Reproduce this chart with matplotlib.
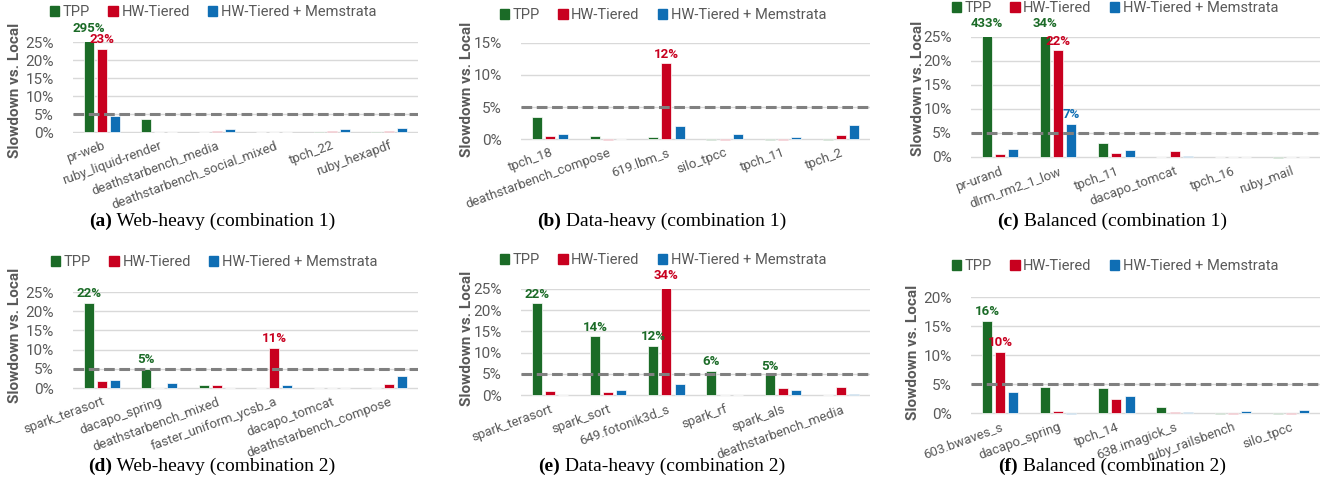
import numpy as np
import matplotlib.pyplot as plt
from matplotlib.patches import Patch

plt.rcParams['font.family'] = ['Roboto', 'DejaVu Sans']

W, H = 1330, 486
green, red, blue = '#1B6B27', '#C8001F', '#0F6EB4'
gray = '#595959'
series_names = ['TPP', 'HW-Tiered', 'HW-Tiered + Memstrata']

# (a) Web-heavy (combination 1)
bench_a = ['pr-web', 'ruby_liquid-render', 'deathstarbench_media',
           'deathstarbench_social_mixed', 'tpch_22', 'ruby_hexapdf']
tpp_a = [295, 3.6, 0, 0, -0.2, -0.2]
hw_a = [23, -0.1, 0.3, 0, 0.3, 0.3]
mem_a = [4.5, 0, 0.75, 0, 0.9, 1.2]
labels_a = [(0, 0, '295%'), (1, 0, '23%')]

# (b) Data-heavy (combination 1)
bench_b = ['tpch_18', 'deathstarbench_compose', '619.lbm_s', 'silo_tpcc', 'tpch_11', 'tpch_2']
tpp_b = [3.5, 0.5, 0.25, -0.1, -0.1, -0.1]
hw_b = [0.5, -0.1, 11.8, -0.1, -0.1, 0.7]
mem_b = [0.85, 0, 2.0, 0.8, 0.35, 2.15]
labels_b = [(1, 2, '12%')]

# (c) Balanced (combination 1)
bench_c = ['pr-urand', 'dlrm_rm2_1_low', 'tpch_11', 'dacapo_tomcat', 'tpch_16', 'ruby_mail']
tpp_c = [433, 34, 3.0, 0, -0.1, -0.15]
hw_c = [0.7, 22.2, 0.9, 1.25, 0, 0]
mem_c = [1.7, 6.9, 1.45, 0.3, 0, -0.1]
labels_c = [(0, 0, '433%'), (0, 1, '34%'), (1, 1, '22%'), (2, 1, '7%')]

# (d) Web-heavy (combination 2)
bench_d = ['spark_terasort', 'dacapo_spring', 'deathstarbench_mixed',
           'faster_uniform_ycsb_a', 'dacapo_tomcat', 'deathstarbench_compose']
tpp_d = [22.2, 5.0, 0.8, 0.1, 0, -0.1]
hw_d = [1.9, 0.1, 0.8, 10.5, 0, 1.0]
mem_d = [2.1, 1.4, 0, 0.85, 0, 3.2]
labels_d = [(0, 0, '22%'), (0, 1, '5%'), (1, 3, '11%')]

# (e) Data-heavy (combination 2)
bench_e = ['spark_terasort', 'spark_sort', '649.fotonik3d_s', 'spark_rf', 'spark_als',
           'deathstarbench_media']
tpp_e = [21.6, 13.8, 11.6, 5.6, 4.6, -0.1]
hw_e = [0.95, 0.7, 34, -0.1, 1.6, 1.8]
mem_e = [-0.1, 1.1, 2.7, -0.1, 1.1, 0.25]
labels_e = [(0, 0, '22%'), (0, 1, '14%'), (0, 2, '12%'), (1, 2, '34%'), (0, 3, '6%'), (0, 4, '5%')]

# (f) Balanced (combination 2)
bench_f = ['603.bwaves_s', 'dacapo_spring', 'tpch_14', '638.imagick_s', 'ruby_railsbench', 'silo_tpcc']
tpp_f = [15.9, 4.4, 4.25, 1.05, -0.1, -0.1]
hw_f = [10.5, 0.3, 2.4, 0.1, -0.1, -0.1]
mem_f = [3.55, -0.15, 3.0, 0.25, 0.4, 0.5]
labels_f = [(0, 0, '16%'), (1, 0, '10%')]

panels = [
    (bench_a, tpp_a, hw_a, mem_a, labels_a, 25, 'a', 'Web-heavy (combination 1)',
     (73, 418, 42, 132), (213, 12), (15, 90), (212, 221)),
    (bench_b, tpp_b, hw_b, mem_b, labels_b, 15, 'b', 'Data-heavy (combination 1)',
     (521, 870, 43, 139), (663, 15), (467, 89), (662, 221)),
    (bench_c, tpp_c, hw_c, mem_c, labels_c, 25, 'c', 'Balanced (combination 1)',
     (971, 1320, 37, 157), (1115, 8), (918, 88), (1112, 221)),
    (bench_d, tpp_d, hw_d, mem_d, labels_d, 25, 'd', 'Web-heavy (combination 2)',
     (73, 418, 292, 388), (214, 262), (15, 335), (212, 466)),
    (bench_e, tpp_e, hw_e, mem_e, labels_e, 25, 'e', 'Data-heavy (combination 2)',
     (521, 870, 289, 395), (663, 260), (467, 338), (662, 466)),
    (bench_f, tpp_f, hw_f, mem_f, labels_f, 20, 'f', 'Balanced (combination 2)',
     (971, 1320, 297, 413), (1115, 266), (913, 352), (1112, 466)),
]

fig = plt.figure(figsize=(W / 100, H / 100), dpi=100)
colors = [green, red, blue]
offsets = [-0.226, 0, 0.226]
captions = []

for bench, tpp, hw, mem, labels, ymax, letter, cap, box, leg, ylab, cpos in panels:
    x0, x1, ytop, yzero = box
    ymin = -ymax * 0.016
    ppu = (yzero - ytop) / ymax
    ybot = yzero - ymin * ppu
    ax = fig.add_axes([x0 / W, 1 - ybot / H, (x1 - x0) / W, (ybot - ytop) / H])
    x = np.arange(len(bench))
    for vals, col, off in zip([tpp, hw, mem], colors, offsets):
        ax.bar(x + off, vals, 0.174, color=col, edgecolor='white', linewidth=0.5, zorder=2)
    for si, bi, txt in labels:
        v = [tpp, hw, mem][si][bi]
        dy = 5 if v > ymax else 2
        ax.annotate(txt, (bi + offsets[si], min(v, ymax)), xytext=(0, dy),
                    textcoords='offset points', ha='center', va='bottom',
                    color=colors[si], fontsize=9.5, fontweight='bold', annotation_clip=False)
    ax.axhline(5, color='#808080', lw=2.2, dashes=(3.5, 1.5), zorder=4)
    ax.set_xlim(-0.5, len(bench) - 0.5)
    ax.set_ylim(ymin, ymax)
    ax.set_yticks(np.arange(0, ymax + 1, 5))
    ax.set_yticklabels([f'{t}%' for t in range(0, ymax + 1, 5)], fontsize=11, color=gray)
    ax.set_xticks(x)
    ax.set_xticklabels(bench, rotation=20, ha='right', rotation_mode='anchor',
                       fontsize=9.5, color=gray)
    ax.tick_params(length=0)
    ax.tick_params(axis='y', pad=14)
    ax.tick_params(axis='x', pad=4)
    for s in ax.spines.values():
        s.set_visible(False)
    ax.set_axisbelow(True)
    ax.yaxis.grid(True, color='#D9D9D9', lw=1)
    handles = [Patch(color=c, label=n) for c, n in zip(colors, series_names)]
    ax.legend(handles=handles, loc='center', ncol=3, frameon=False,
              bbox_to_anchor=(leg[0] / W, 1 - leg[1] / H), bbox_transform=fig.transFigure,
              fontsize=10.5, handlelength=0.65, handleheight=0.65, handletextpad=0.25,
              columnspacing=1.25, labelcolor=gray)
    fig.text(ylab[0] / W, 1 - ylab[1] / H, 'Slowdown vs. Local', rotation=90,
             ha='center', va='center', fontsize=11, fontweight='bold', color=gray)
    t1 = fig.text(cpos[0] / W, 1 - cpos[1] / H, f'({letter})', ha='left', va='center',
                  fontsize=14, fontweight='bold', family='Liberation Serif')
    t2 = ax.annotate(' ' + cap, xy=(1, 0.5), xycoords=t1, ha='left', va='center',
                     fontsize=14, family='Liberation Serif', annotation_clip=False)
    captions.append((t1, t2, cpos[0]))

# center each two-part caption on its panel
renderer = fig.canvas.get_renderer()
for t1, t2, cx in captions:
    b1 = t1.get_window_extent(renderer)
    b2 = t2.get_window_extent(renderer)
    width = b2.x1 - b1.x0
    t1.set_x((cx - width / 2) / W)

fig.savefig('out.png', dpi=100)
